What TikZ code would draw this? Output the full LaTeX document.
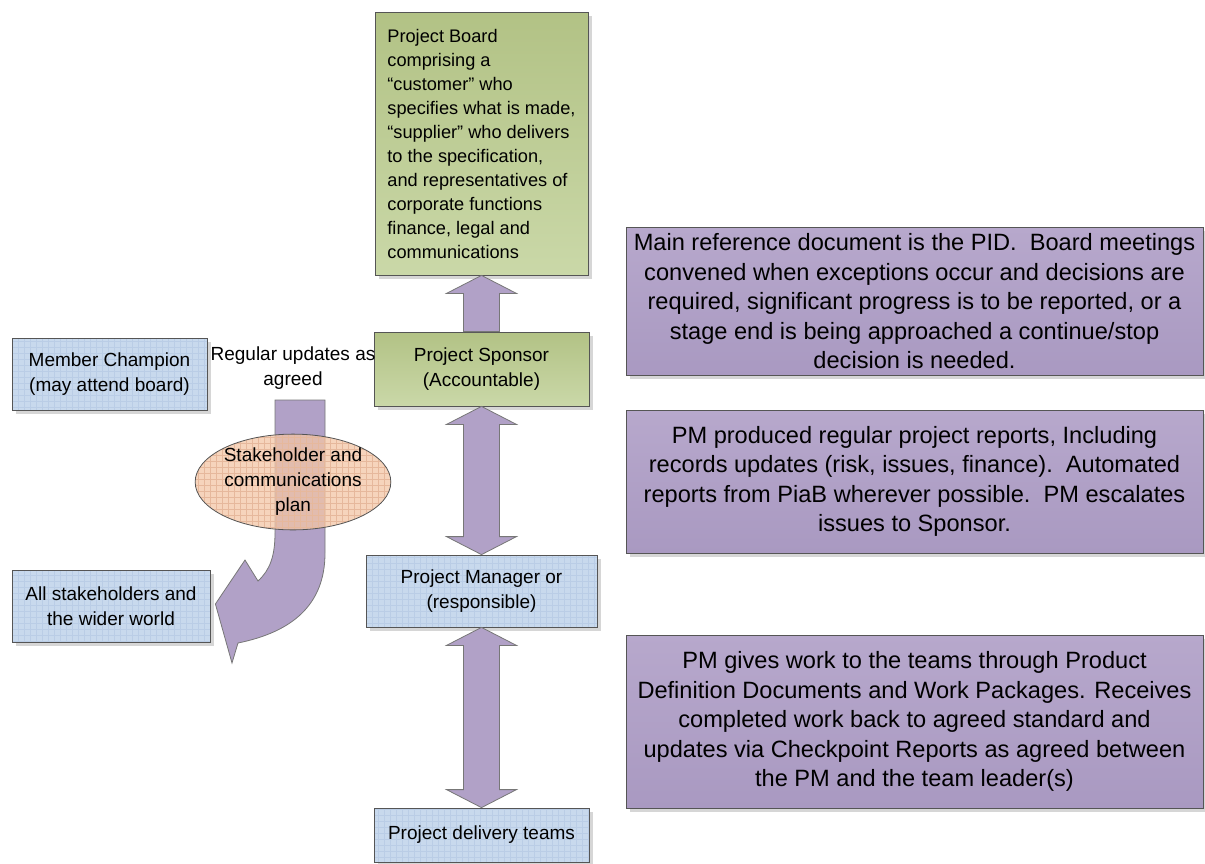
\documentclass[tikz,border=0pt]{standalone}
\usepackage{fontspec}
\setmainfont{Liberation Sans}
\usetikzlibrary{calc,shapes,shadows,patterns,positioning}
\tikzset{>=latex}
\definecolor{boxblue}{RGB}{200,217,237}
\definecolor{gridblue}{RGB}{186,205,230}
\definecolor{boardgreen}{RGB}{178,194,133}
\definecolor{boardlight}{RGB}{202,216,168}
\definecolor{notepurple}{RGB}{183,168,204}
\definecolor{notedark}{RGB}{169,153,193}
\definecolor{arrowpurple}{RGB}{177,161,199}
\definecolor{planorange}{RGB}{243,198,166}
\definecolor{gridorange}{RGB}{230,184,156}
\definecolor{edgegray}{RGB}{85,85,85}
\tikzset{
  boxshadow/.style={drop shadow={shadow xshift=1.8pt, shadow yshift=-1.8pt, fill=black!16, opacity=1}},
  bluebox/.style={rectangle, fill=boxblue, boxshadow,
    postaction={pattern=grid, pattern color=gridblue}, postaction={draw=edgegray},
    align=center, font=\fontsize{9.5}{12.5}\selectfont},
  greenbox/.style={rectangle, draw=edgegray, top color=boardgreen, bottom color=boardlight, boxshadow,
    font=\fontsize{9.5}{12.5}\selectfont},
  notebox/.style={rectangle, draw=edgegray, top color=notepurple, bottom color=notedark, boxshadow,
    align=center, font=\fontsize{11.8}{14.75}\selectfont},
  fatarrow/.style={draw=edgegray!80, fill=arrowpurple, line width=0.4pt},
  planellipse/.style={ellipse, fill=planorange, fill opacity=0.75, text opacity=1,
    postaction={pattern=grid, pattern color=gridorange}, postaction={draw=edgegray},
    align=center, inner sep=0pt, font=\fontsize{9.5}{12.5}\selectfont}
}

\begin{document}
\begin{tikzpicture}[x=0.5pt,y=-0.5pt]
  \useasboundingbox (0,0) rectangle (1205,863);
  % centre column
  \node[greenbox, align=left, minimum width=106.5pt, minimum height=131.5pt, font=\fontsize{9.1}{12}\selectfont] (board) at (481.5,143.5)
    {Project Board\\comprising a\\“customer” who\\specifies what is made,\\“supplier” who delivers\\to the specification,\\and representatives of\\corporate functions\\finance, legal and\\communications};
  \node[greenbox, align=center, minimum width=107.5pt, minimum height=37pt] (sponsor) at (481.5,369) {Project Sponsor\\(Accountable)};
  \node[bluebox, minimum width=115.5pt, minimum height=36pt] (manager) at (481.5,591) {Project Manager or\\(responsible)};
  \node[bluebox, minimum width=107.5pt, minimum height=27pt] (teams) at (481.5,835) {Project delivery teams};
  % left column
  \node[bluebox, minimum width=97.5pt, minimum height=36pt] (champion) at (109.5,374) {Member Champion\\(may attend board)};
  \node[bluebox, minimum width=99pt, minimum height=36pt] (world) at (111,606) {All stakeholders and\\the wider world};
  \node[align=center, font=\fontsize{9.5}{12.5}\selectfont] (updates) at (293,368) {Regular updates as\\agreed};
  % notes on the right
  \node[notebox, minimum width=288.5pt, minimum height=73.5pt] (pidnote) at (914.5,301.5)
    {Main reference document is the PID.\ \ Board meetings\\convened when exceptions occur and decisions are\\required, significant progress is to be reported, or a\\stage end is being approached a continue/stop\\decision is needed.};
  \node[notebox, minimum width=288.5pt, minimum height=71.5pt] (reportnote) at (914.5,481.5)
    {PM produced regular project reports, Including\\records updates (risk, issues, finance).\ \ Automated\\reports from PiaB wherever possible.\ \ PM escalates\\issues to Sponsor.};
  \node[notebox, minimum width=288.5pt, minimum height=86.5pt] (worknote) at (914.5,721.5)
    {PM gives work to the teams through Product\\Definition Documents and Work Packages. Receives\\completed work back to agreed standard and\\updates via Checkpoint Reports as agreed between\\the PM and the team leader(s)};
  % block arrows
  \draw[fatarrow] ($(sponsor.north)+(18,0)$) -- ($(board.south)+(18,18)$) -- ($(board.south)+(35,18)$)
    -- (board.south) -- ($(board.south)+(-35,18)$) -- ($(board.south)+(-18,18)$) -- ($(sponsor.north)+(-18,0)$) -- cycle;
  \draw[fatarrow] (sponsor.south) -- ($(sponsor.south)+(35,18)$) -- ($(sponsor.south)+(18,18)$) -- ($(manager.north)+(18,-18)$)
    -- ($(manager.north)+(35,-18)$) -- (manager.north) -- ($(manager.north)+(-35,-18)$) -- ($(manager.north)+(-18,-18)$)
    -- ($(sponsor.south)+(-18,18)$) -- ($(sponsor.south)+(-35,18)$) -- cycle;
  \draw[fatarrow] (manager.south) -- ($(manager.south)+(35,18)$) -- ($(manager.south)+(18,18)$) -- ($(teams.north)+(18,-18)$)
    -- ($(teams.north)+(35,-18)$) -- (teams.north) -- ($(teams.north)+(-35,-18)$) -- ($(teams.north)+(-18,-18)$)
    -- ($(manager.south)+(-18,18)$) -- ($(manager.south)+(-35,18)$) -- cycle;
  % curved arrow to the wider world
  \coordinate (tip) at ($(world.east)+(5,-2)$);
  \draw[fatarrow] (275,400) -- (275,533) .. controls (275,556) and (270,570) .. (258,581) -- (245,560) -- (tip)
    -- (232,663) -- (238,643) .. controls (292,632) and (325,605) .. (325,553) -- (325,400) -- cycle;
  \node[planellipse, minimum width=93.5pt, minimum height=47.5pt] (plan) at (293,482) {Stakeholder and\\communications\\plan};
\end{tikzpicture}
\end{document}
